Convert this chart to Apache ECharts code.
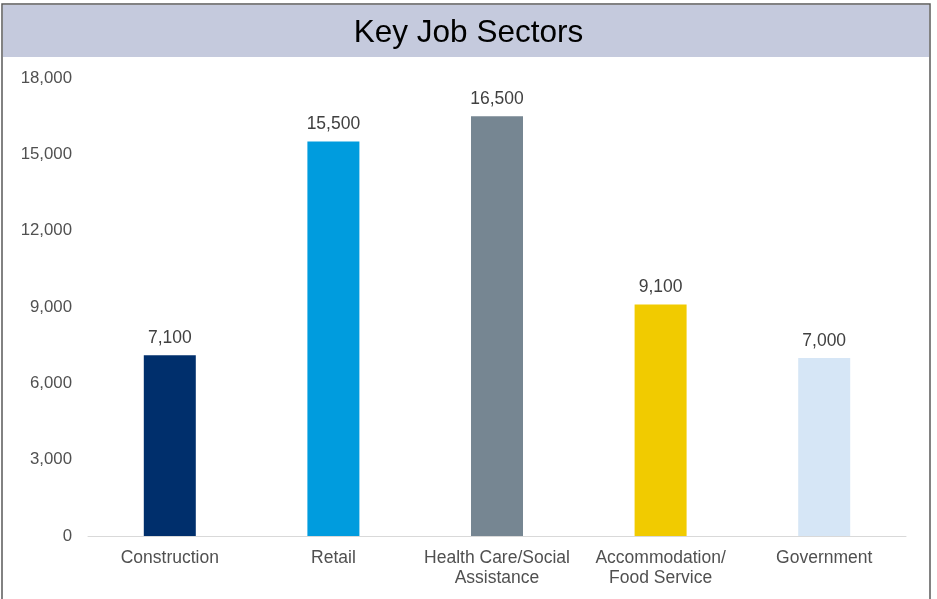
<!DOCTYPE html>
<html>
<head>
<meta charset="utf-8">
<script src="https://cdn.jsdelivr.net/npm/echarts@6/dist/echarts.min.js"></script>
<style>
  html, body { margin: 0; padding: 0; background: #ffffff; }
  #chart { width: 937px; height: 599px; }
</style>
</head>
<body>
<div id="chart"></div>
<script>
// Sector names, job counts and bar colours
const categories = ['Construction', 'Retail', 'Health Care/Social\nAssistance', 'Accommodation/\nFood Service', 'Government'];
const jobs = [7100, 15500, 16500, 9100, 7000];
const barColors = ['#002F6C', '#009CDE', '#768692', '#F1CB00', '#D6E6F6'];

const chart = echarts.init(document.getElementById('chart'), null, { renderer: 'canvas' });

chart.setOption({
  animation: false,
  backgroundColor: '#ffffff',
  graphic: [
    // heading band
    { type: 'rect', shape: { x: 3, y: 5, width: 926, height: 52 }, style: { fill: '#C5CADD' }, z: 0 },
    // frame
    { type: 'rect', shape: { x: 2, y: 4, width: 928, height: 600 }, style: { fill: 'none', stroke: '#5a5a5a', lineWidth: 1.5 }, z: 1 }
  ],
  title: {
    text: 'Key Job Sectors',
    left: 'center',
    top: 12,
    textStyle: { fontFamily: 'Liberation Sans', fontSize: 31.5, fontWeight: 'normal', color: '#000000' }
  },
  grid: { left: 88, right: 31, top: 78, bottom: 63, containLabel: false },
  xAxis: {
    type: 'category',
    data: categories,
    axisLine: { show: true, lineStyle: { color: '#D9D9D9', width: 1 } },
    axisTick: { show: false },
    axisLabel: {
      color: '#505050', fontFamily: 'Liberation Sans', fontSize: 17.5,
      lineHeight: 20, margin: 12, interval: 0
    }
  },
  yAxis: {
    type: 'value',
    min: 0, max: 18000, interval: 3000,
    axisLine: { show: false },
    axisTick: { show: false },
    splitLine: { show: false },
    axisLabel: {
      color: '#505050', fontFamily: 'Liberation Sans', fontSize: 16.8, margin: 16,
      padding: [4, 0, 0, 0],
      formatter: v => v.toLocaleString('en-US')
    }
  },
  series: [{
    type: 'bar',
    data: jobs.map((v, i) => ({ value: v, itemStyle: { color: barColors[i] } })),
    barWidth: 52,
    label: {
      show: true, position: 'top', distance: 8,
      color: '#404040', fontFamily: 'Liberation Sans', fontSize: 17.5,
      formatter: p => p.value.toLocaleString('en-US')
    }
  }]
});
</script>
</body>
</html>
